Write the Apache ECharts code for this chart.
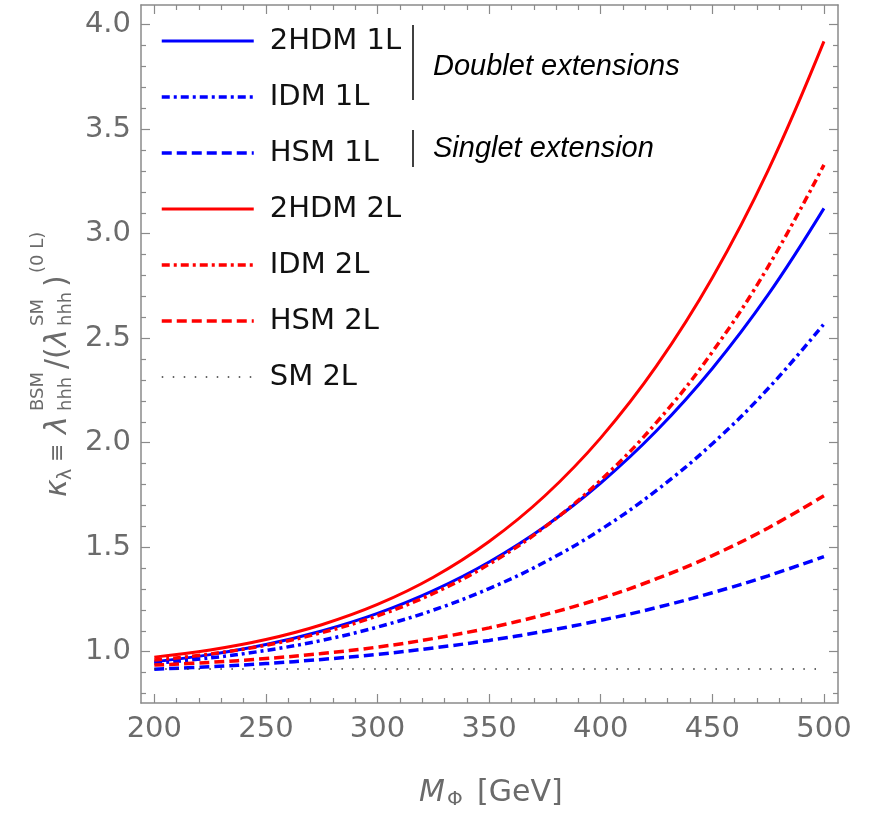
<!DOCTYPE html>
<html>
<head>
<meta charset="utf-8">
<script src="https://cdn.jsdelivr.net/npm/echarts@6/dist/echarts.min.js"></script>
<style>
html,body{margin:0;padding:0;background:#fff;}
#chart{width:869px;height:814px;}
</style>
</head>
<body>
<div id="chart"></div>
<script>
// ---- data ----
const massValues = [200, 225, 250, 275, 300, 325, 350, 375, 400, 425, 450, 475, 500];
const hdm1L = [0.952, 0.986, 1.034, 1.099, 1.183, 1.292, 1.429, 1.599, 1.807, 2.057, 2.355, 2.708, 3.121];
const idm1L = [0.945, 0.970, 1.006, 1.054, 1.118, 1.199, 1.302, 1.429, 1.584, 1.772, 1.995, 2.259, 2.568];
const hsm1L = [0.916, 0.928, 0.943, 0.963, 0.987, 1.018, 1.054, 1.098, 1.150, 1.211, 1.282, 1.363, 1.455];
const hdm2L = [0.974, 1.008, 1.058, 1.129, 1.226, 1.356, 1.527, 1.746, 2.023, 2.367, 2.789, 3.303, 3.920];
const idm2L = [0.960, 0.989, 1.031, 1.091, 1.172, 1.279, 1.419, 1.597, 1.821, 2.097, 2.434, 2.842, 3.329];
const hsm2L = [0.936, 0.949, 0.967, 0.991, 1.022, 1.063, 1.114, 1.178, 1.255, 1.349, 1.460, 1.592, 1.746];
const sm2L  = [0.917, 0.917, 0.917, 0.917, 0.917, 0.917, 0.917, 0.917, 0.917, 0.917, 0.917, 0.917, 0.917];
const seriesNames = ['2HDM 1L', 'IDM 1L', 'HSM 1L', '2HDM 2L', 'IDM 2L', 'HSM 2L', 'SM 2L'];
const xTickLabels = [200, 250, 300, 350, 400, 450, 500];
const yTickLabels = [1.0, 1.5, 2.0, 2.5, 3.0, 3.5, 4.0];

// ---- styling ----
const X_MIN = 194.04, X_MAX = 506.3;
const Y_MIN = 0.7545, Y_MAX = 4.094;
const AX = '#8a8a8a';
const LBL = '#6b6b6b';
const RED = '#ff0000', BLUE = '#0000ff';
const DASH = [10, 5];
const DASHDOT = [8, 4, 3, 4];
const DOT = [1.5, 9.5];
const seriesStyles = [
  { color: BLUE, type: 'solid', width: 3 },
  { color: BLUE, type: DASHDOT, width: 3.5 },
  { color: BLUE, type: DASH, width: 3.5 },
  { color: RED, type: 'solid', width: 3 },
  { color: RED, type: DASHDOT, width: 3.5 },
  { color: RED, type: DASH, width: 3.5 },
  { color: '#333333', type: DOT, width: 1.5 }
];
const seriesValues = [hdm1L, idm1L, hsm1L, hdm2L, idm2L, hsm2L, sm2L];

function minorVals(lo, hi, step, majors) {
  const out = [];
  for (let v = lo; v <= hi + 1e-9; v += step) {
    const r = Math.round(v * 100) / 100;
    if (!majors.some(m => Math.abs(m - r) < 1e-6)) out.push(r);
  }
  return out;
}
const xMinor = minorVals(200, 500, 10, xTickLabels);
const yMinor = minorVals(0.8, 3.9, 0.1, yTickLabels);

function pairs(ys) { return massValues.map((x, i) => [x, ys[i]]); }

function xAx(pos, major, showLine, showLabel) {
  return {
    type: 'value', position: pos, min: X_MIN, max: X_MAX,
    axisLine: { show: showLine, onZero: false, lineStyle: { color: AX, width: 1.5 } },
    axisTick: { show: true, inside: true, length: major ? 9 : 5,
      customValues: major ? xTickLabels : xMinor, lineStyle: { color: AX, width: 1.2 } },
    axisLabel: { show: showLabel, customValues: xTickLabels, color: LBL, fontSize: 29,
      fontFamily: 'DejaVu Sans', margin: 12, formatter: v => String(Math.round(v)) },
    splitLine: { show: false }, minorTick: { show: false }, axisPointer: { show: false }
  };
}
function yAx(pos, major, showLine, showLabel) {
  return {
    type: 'value', position: pos, min: Y_MIN, max: Y_MAX,
    axisLine: { show: showLine, onZero: false, lineStyle: { color: AX, width: 1.5 } },
    axisTick: { show: true, inside: true, length: major ? 9 : 5,
      customValues: major ? yTickLabels : yMinor, lineStyle: { color: AX, width: 1.2 } },
    axisLabel: { show: showLabel, customValues: yTickLabels, color: LBL, fontSize: 29,
      fontFamily: 'DejaVu Sans', margin: 10, formatter: v => v.toFixed(1) },
    splitLine: { show: false }, minorTick: { show: false }, axisPointer: { show: false }
  };
}

function line(i) {
  const s = seriesStyles[i];
  return {
    name: seriesNames[i], type: 'line', data: pairs(seriesValues[i]), xAxisIndex: 0, yAxisIndex: 0,
    smooth: 0.4, symbol: 'none', showSymbol: false, silent: true,
    lineStyle: { color: s.color, width: s.width, type: s.type, cap: 'butt' },
    itemStyle: { color: s.color }, emphasis: { disabled: true }
  };
}

const chart = echarts.init(document.getElementById('chart'), null, { renderer: 'canvas' });

const T = 'DejaVu Sans';
function ytxt(text, u, v, size, italic) {
  return { type: 'text', x: u, y: v, silent: true,
    style: { text: text, fontSize: size, fontFamily: T, fontStyle: italic ? 'italic' : 'normal',
      fill: LBL, verticalAlign: 'middle', align: 'left' } };
}

const option = {
  animation: false,
  backgroundColor: '#ffffff',
  grid: { left: 141, top: 5, width: 697, height: 698, outerBoundsMode: 'none', containLabel: false },
  xAxis: [xAx('bottom', true, true, true), xAx('bottom', false, false, false),
          xAx('top', true, true, false), xAx('top', false, false, false)],
  yAxis: [yAx('left', true, true, true), yAx('left', false, false, false),
          yAx('right', true, true, false), yAx('right', false, false, false)],
  legend: {
    show: true, orient: 'vertical', left: 160, top: 26, padding: 0,
    data: seriesNames.map((n, i) => ({
      name: n,
      lineStyle: { width: seriesStyles[i].width, type: seriesStyles[i].type, color: seriesStyles[i].color }
    })),
    itemWidth: 92, itemHeight: 20, itemGap: 26,
    selectedMode: false,
    itemStyle: { color: 'transparent', borderColor: 'transparent', borderWidth: 0, opacity: 0 },
    textStyle: { fontFamily: T, fontSize: 29, color: '#111111', lineHeight: 30, padding: [0, 0, 0, 11] }
  },
  series: seriesNames.map((n, i) => line(i)),
  graphic: [
    { type: 'line', silent: true, shape: { x1: 413, y1: 25, x2: 413, y2: 100 }, style: { stroke: '#000', lineWidth: 1.5 } },
    { type: 'line', silent: true, shape: { x1: 413, y1: 130, x2: 413, y2: 167 }, style: { stroke: '#000', lineWidth: 1.5 } },
    { type: 'text', silent: true, x: 433, y: 67, style: { text: 'Doublet extensions', fontFamily: 'Liberation Sans', fontStyle: 'italic', fontSize: 29, fill: '#000', verticalAlign: 'middle' } },
    { type: 'text', silent: true, x: 433, y: 149, style: { text: 'Singlet extension', fontFamily: 'Liberation Sans', fontStyle: 'italic', fontSize: 29, fill: '#000', verticalAlign: 'middle' } },
    // x axis title
    { type: 'text', silent: true, x: 419, y: 793, style: { text: 'M', fontFamily: T, fontStyle: 'italic', fontSize: 30, fill: LBL, verticalAlign: 'middle' } },
    { type: 'text', silent: true, x: 447, y: 800, style: { text: 'Φ', fontFamily: T, fontSize: 20, fill: LBL, verticalAlign: 'middle' } },
    { type: 'text', silent: true, x: 477, y: 793, style: { text: '[GeV]', fontFamily: T, fontSize: 30, fill: LBL, verticalAlign: 'middle' } },
    // y axis title (rotated group)
    { type: 'group', x: 68, y: 497, rotation: Math.PI / 2, silent: true, children: [
      ytxt('κ', 0, -10, 30, true),
      ytxt('λ', 17, -2, 19, false),
      ytxt('≡', 35, -10, 22, false),
      ytxt('λ', 63, -10, 30, true),
      ytxt('BSM', 86, -30, 18, false),
      ytxt('hhh', 86, -2, 18, false),
      ytxt('/(', 128, -10, 30, false),
      ytxt('λ', 150, -10, 30, true),
      ytxt('SM', 171, -30, 18, false),
      ytxt('hhh', 171, -2, 18, false),
      ytxt(')', 210, -10, 30, false),
      ytxt('(0 L)', 224, -30, 18, false)
    ] }
  ]
};
chart.setOption(option);
</script>
</body>
</html>
